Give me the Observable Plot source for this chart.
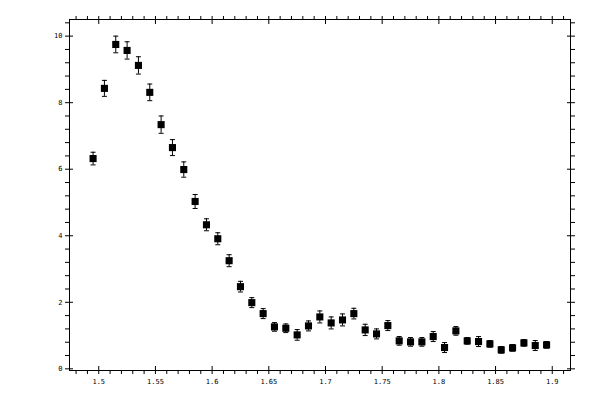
<!DOCTYPE html>
<html><head><meta charset="utf-8">
<script src="https://cdn.jsdelivr.net/npm/d3@7"></script>
<script src="https://cdn.jsdelivr.net/npm/@observablehq/plot@0.6"></script>
<style>html,body{margin:0;padding:0;background:#fff} svg{display:block}</style>
</head><body><div id="chart"></div>
<script>
const xValues = [1.495,1.505,1.515,1.525,1.535,1.545,1.555,1.565,1.575,1.585,
  1.595,1.605,1.615,1.625,1.635,1.645,1.655,1.665,1.675,1.685,
  1.695,1.705,1.715,1.725,1.735,1.745,1.755,1.765,1.775,1.785,
  1.795,1.805,1.815,1.825,1.835,1.845,1.855,1.865,1.875,1.885,1.895];
const yValues = [6.32,8.43,9.75,9.57,9.12,8.31,7.34,6.65,5.99,5.03,
  4.33,3.91,3.25,2.47,1.99,1.66,1.26,1.22,1.02,1.29,
  1.56,1.38,1.47,1.66,1.17,1.05,1.30,0.84,0.81,0.81,
  0.97,0.64,1.14,0.84,0.82,0.75,0.57,0.63,0.78,0.70,0.72];
const yErrors = [0.19,0.24,0.25,0.26,0.26,0.25,0.26,0.24,0.23,0.21,
  0.18,0.18,0.18,0.16,0.15,0.15,0.13,0.13,0.16,0.15,
  0.18,0.18,0.18,0.16,0.17,0.15,0.15,0.13,0.13,0.13,
  0.15,0.15,0.13,0.10,0.15,0.10,0.10,0.10,0.10,0.15,0.10];
const xMajorTicks = [1.5,1.55,1.6,1.65,1.7,1.75,1.8,1.85,1.9];
const xTickLabels = ["1.5","1.55","1.6","1.65","1.7","1.75","1.8","1.85","1.9"];
const yMajorTicks = [0,2,4,6,8,10];
const yTickLabels = ["0","2","4","6","8","10"];
const xMinorTicks = d3.range(148,192).filter(k => k % 5 !== 0).map(k => k/100);
const yMinorTicks = d3.range(0,27).filter(k => k % 5 !== 0).map(k => k*0.4);

const data = xValues.map((x,i) => ({x, y: yValues[i], e: yErrors[i]}));
const capSymbol = {draw(ctx){ ctx.moveTo(-2.5,0); ctx.lineTo(2.5,0); }};
const xFmt = d => xTickLabels[xMajorTicks.indexOf(d)];
const yFmt = d => yTickLabels[yMajorTicks.indexOf(d)];

const chart = Plot.plot({
  width: 600, height: 400,
  marginLeft: 69, marginRight: 30, marginTop: 19, marginBottom: 30,
  style: {fontFamily: "DejaVu Sans Mono", fontSize: "7px", background: "#fff", color: "black"},
  x: {domain: [1.4742, 1.9161]},
  y: {domain: [-0.05, 10.5]},
  marks: [
    Plot.frame({stroke: "black"}),
    // bottom
    Plot.axisX(xMinorTicks, {anchor: "bottom", tickSize: 4, fill: "none", label: null}),
    Plot.axisX(xMajorTicks, {anchor: "bottom", tickSize: 8, dy: -4, fill: "none", label: null}),
    Plot.axisX(xMajorTicks, {anchor: "bottom", tickSize: 0, tickPadding: 9, tickFormat: xFmt, label: null}),
    // top
    Plot.axisX(xMinorTicks, {anchor: "top", tickSize: 4, fill: "none", label: null}),
    Plot.axisX(xMajorTicks, {anchor: "top", tickSize: 8, dy: 4, fill: "none", label: null}),
    // left
    Plot.axisY(yMinorTicks, {anchor: "left", tickSize: 4, fill: "none", label: null}),
    Plot.axisY(yMajorTicks, {anchor: "left", tickSize: 8, dx: 4, fill: "none", label: null}),
    Plot.axisY(yMajorTicks, {anchor: "left", tickSize: 0, tickPadding: 7, tickFormat: yFmt, label: null}),
    // right
    Plot.axisY(yMinorTicks, {anchor: "right", tickSize: 4, fill: "none", label: null}),
    Plot.axisY(yMajorTicks, {anchor: "right", tickSize: 8, dx: -4, fill: "none", label: null}),
    // error bars
    Plot.ruleX(data, {x: "x", y1: d => d.y - d.e, y2: d => d.y + d.e, stroke: "black", strokeWidth: 1}),
    Plot.dot(data, {x: "x", y: d => d.y - d.e, symbol: capSymbol, stroke: "black", strokeWidth: 1, fill: "none"}),
    Plot.dot(data, {x: "x", y: d => d.y + d.e, symbol: capSymbol, stroke: "black", strokeWidth: 1, fill: "none"}),
    // markers
    Plot.dot(data, {x: "x", y: "y", symbol: "square", r: 4, fill: "black", stroke: "none"})
  ]
});
document.getElementById("chart").appendChild(chart);
</script>
</body></html>
